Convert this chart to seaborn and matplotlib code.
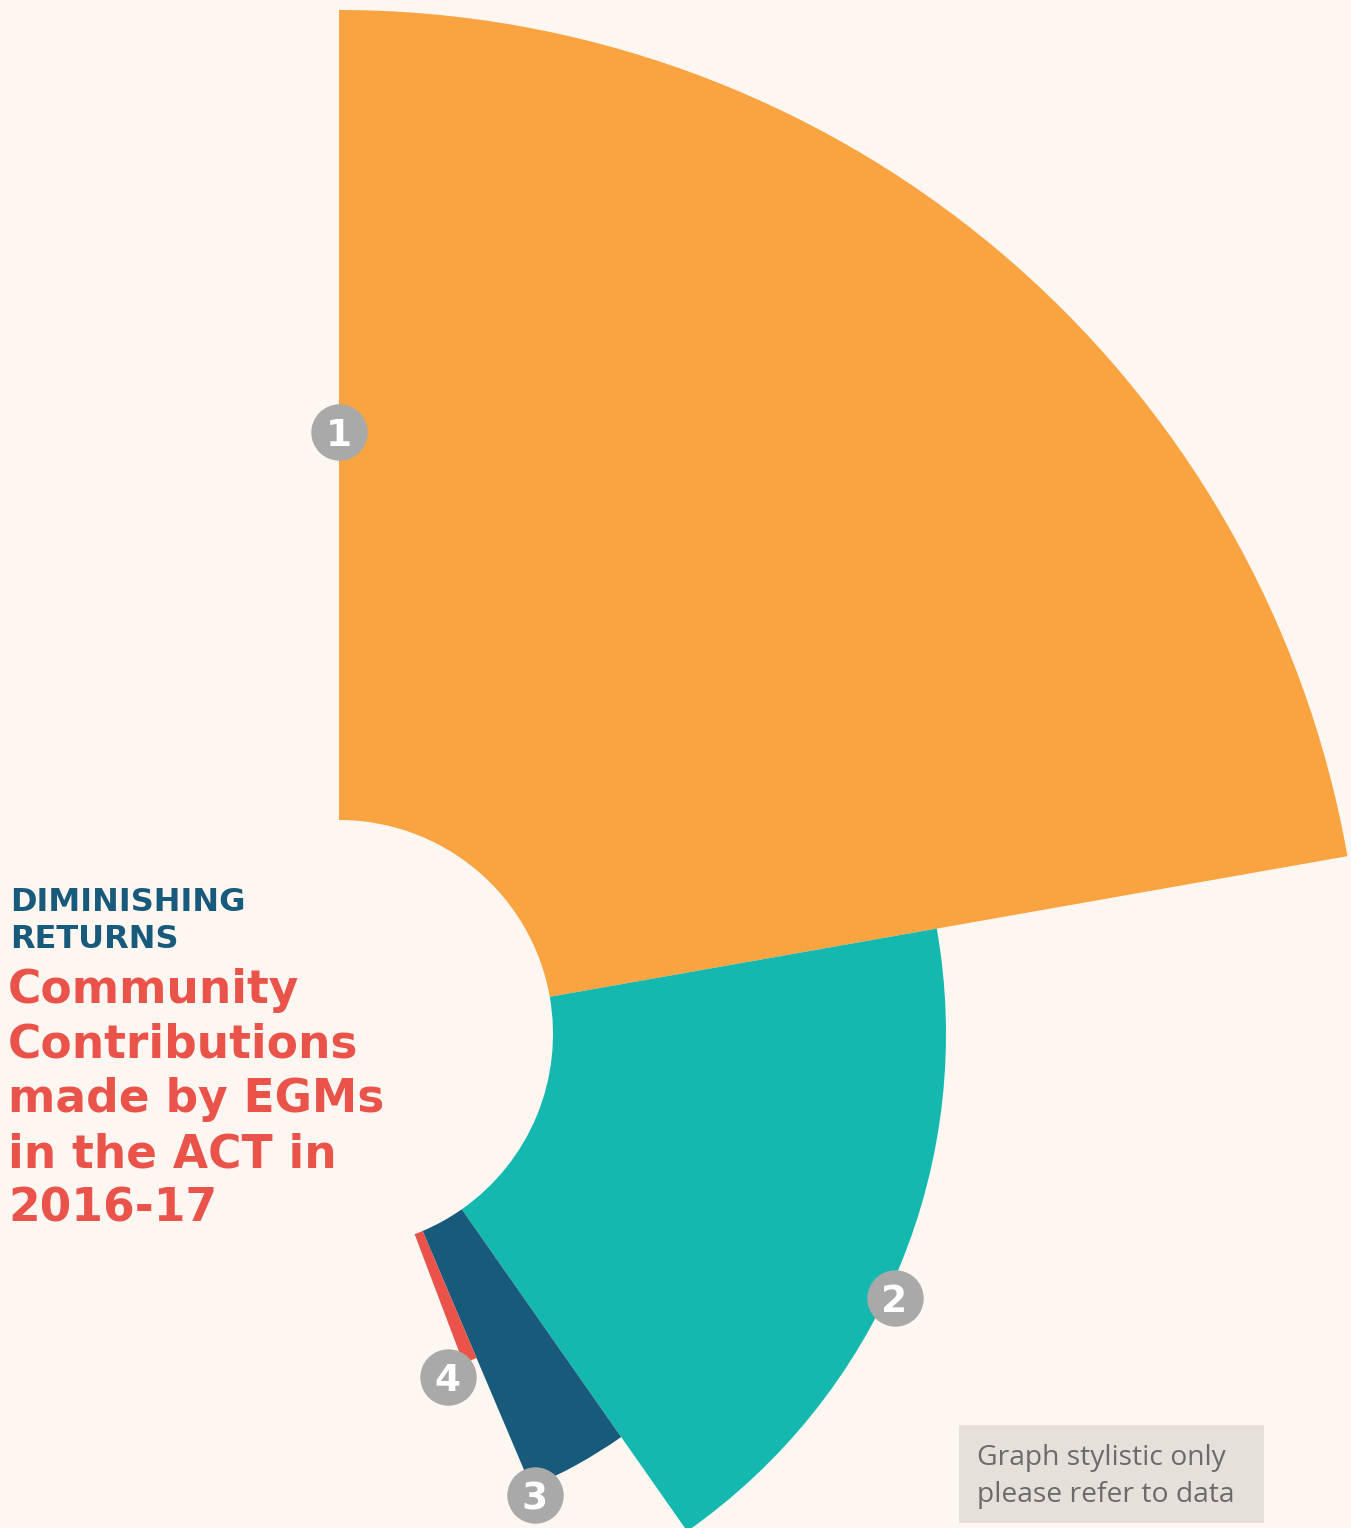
import numpy as np
import seaborn as sns
import matplotlib.pyplot as plt
from matplotlib.patches import Rectangle

# wedge data: angular share (degrees) and outer reach of each segment
segments = ["1", "2", "3", "4"]
share_deg = [80.0, 65.0, 12.0, 2.3]
reach = [1024, 607, 492, 352]
hole = 214

# badge positions (angle in degrees, radius) for the numbered markers
badge_deg = [0.0, 115.4, 157.0, 162.4]
badge_r = [602, 615, 501, 360]

kicker = ["DIMINISHING", "RETURNS"]
title_lines = ["Community", "Contributions", "made by EGMs", "in the ACT in", "2016-17"]
note_lines = ["Graph stylistic only", "please refer to data"]

bg = "#FEF6F0"
palette = sns.color_palette(["#F9A441", "#14B8AE", "#185A7B", "#E9534A"])

sns.set_theme(style="white", rc={"figure.facecolor": bg, "savefig.facecolor": bg})
plt.rcParams["font.family"] = ["DejaVu Sans"]

W, H = 1351, 1528
fig = plt.figure(figsize=(W / 100, H / 100), dpi=100)

cx, cy = 339, 1034
half = 1100
ax = fig.add_axes([(cx - half) / W, (H - cy - half) / H, 2 * half / W, 2 * half / H],
                  projection="polar")
ax.set_theta_zero_location("N")
ax.set_theta_direction(-1)
ax.set_ylim(0, half)
ax.set_axis_off()

starts = np.cumsum([0] + share_deg[:-1])
for start, width, r, col in zip(starts, share_deg, reach, palette):
    ax.bar(np.deg2rad(start), r - hole, width=np.deg2rad(width), bottom=hole,
           align="edge", color=col, edgecolor="none", linewidth=0)

ax.scatter(np.deg2rad(badge_deg), badge_r, s=1650, color="#A9A9A9",
           zorder=5, clip_on=False, linewidths=0)
for lab, a, r in zip(segments, badge_deg, badge_r):
    ax.text(np.deg2rad(a), r, lab, color="white", fontsize=27, fontweight="bold",
            ha="center", va="center_baseline", zorder=6, clip_on=False)

# title block
for i, line in enumerate(kicker):
    fig.text(10 / W, 1 - (911 + i * 37) / H, line,
             color="#185A7B", fontsize=23, fontweight="bold", ha="left", va="baseline")
for i, line in enumerate(title_lines):
    fig.text(8 / W, 1 - (1003 + i * 54.7) / H, line, color="#E9534A",
             fontsize=32.8, fontweight="bold", ha="left", va="baseline")

# note box
fig.patches.append(Rectangle((959 / W, 1 - 1523 / H), (1264 - 959) / W, (1523 - 1425) / H,
                             transform=fig.transFigure, facecolor="#E6E0DB",
                             edgecolor="none", zorder=0))
for i, line in enumerate(note_lines):
    fig.text(977 / W, 1 - (1465 + i * 37) / H, line, color="#6B6B6B",
             fontsize=20.3, family=["Open Sans", "DejaVu Sans"], ha="left", va="baseline")

fig.savefig("out.png", dpi=100)
